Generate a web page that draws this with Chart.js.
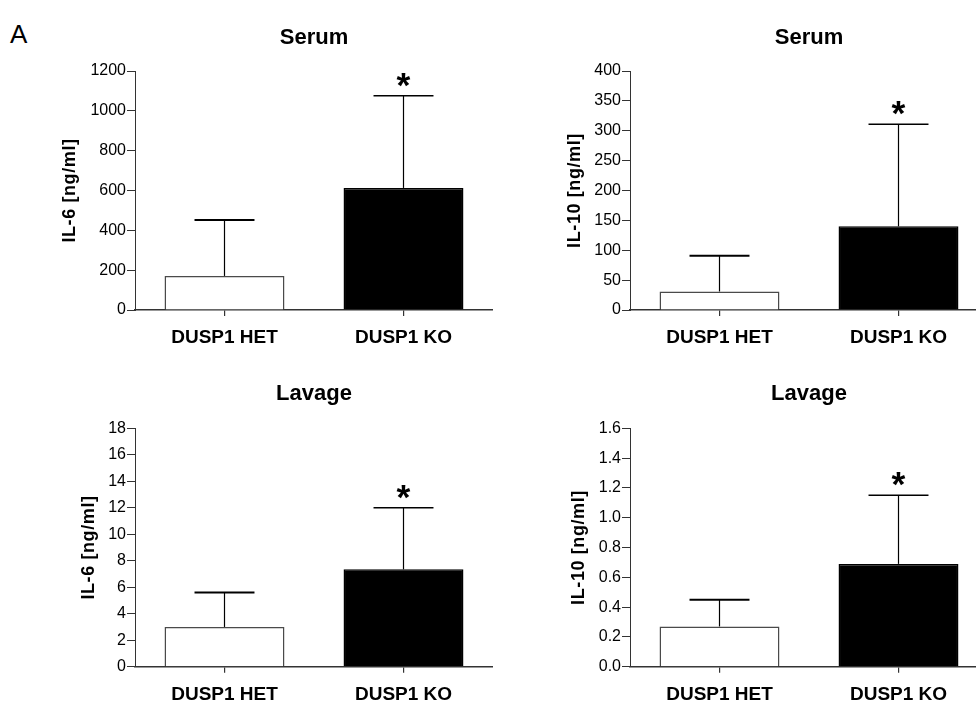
<!DOCTYPE html>
<html>
<head>
<meta charset="utf-8">
<title>DUSP1 HET vs KO – IL-6 / IL-10</title>
<script src="https://cdn.jsdelivr.net/npm/chart.js@4.4.1/dist/chart.umd.min.js"></script>
<style>
    html, body { margin: 0; padding: 0; background: #fff; width: 976px; height: 704px; overflow: hidden; }
    .panel { position: absolute; }
    .panel canvas { display: block; }
    #fig-label { position: absolute; left: 10px; top: 21px; font: 26px/26px "Liberation Sans", Arial, sans-serif; color: #000; }
</style>
</head>
<body>
<div id="fig-label">A</div>
<div class="panel" style="left:0;top:0"><canvas id="c-serum-il6" width="493" height="352"></canvas></div>
<div class="panel" style="left:488px;top:0"><canvas id="c-serum-il10" width="500" height="352"></canvas></div>
<div class="panel" style="left:0;top:352px"><canvas id="c-lavage-il6" width="493" height="352"></canvas></div>
<div class="panel" style="left:488px;top:352px"><canvas id="c-lavage-il10" width="500" height="352"></canvas></div>
<script>
(function () {
    'use strict';

    // ─── Data ───────────────────────────────────────────────────

    const CATEGORIES = ['DUSP1 HET', 'DUSP1 KO'];
    const SIG_MARKS  = ['', '*'];

    const SERUM_IL6_MEAN   = [171, 613];
    const SERUM_IL6_SD     = [281, 463];
    const SERUM_IL10_MEAN  = [31, 140];
    const SERUM_IL10_SD    = [60, 171];
    const LAVAGE_IL6_MEAN  = [3.0, 7.35];
    const LAVAGE_IL6_SD    = [2.6, 4.65];
    const LAVAGE_IL10_MEAN = [0.27, 0.69];
    const LAVAGE_IL10_SD   = [0.18, 0.46];

    const PANEL_TITLES = ['Serum', 'Serum', 'Lavage', 'Lavage'];
    const Y_TITLES     = ['IL-6 [ng/ml]', 'IL-10 [ng/ml]', 'IL-6 [ng/ml]', 'IL-10 [ng/ml]'];
    const Y_MAX        = [1200, 400, 18, 1.6];
    const Y_STEP       = [200, 50, 2, 0.2];
    const Y_DECIMALS   = [0, 0, 0, 1];

    // ─── Layout (pixels inside each canvas) ─────────────────────

    const PANELS = [
        { id: 'c-serum-il6',   mean: SERUM_IL6_MEAN,   sd: SERUM_IL6_SD,   axisW: 135, xH: 42,   pad: { top: 24.5, bottom: 20.1 }, yTitleX: 69.7 },
        { id: 'c-serum-il10',  mean: SERUM_IL10_MEAN,  sd: SERUM_IL10_SD,  axisW: 142, xH: 42,   pad: { top: 24.5, bottom: 20.1 }, yTitleX: 87 },
        { id: 'c-lavage-il6',  mean: LAVAGE_IL6_MEAN,  sd: LAVAGE_IL6_SD,  axisW: 135, xH: 37.3, pad: { top: 28.6, bottom: 21.3 }, yTitleX: 89 },
        { id: 'c-lavage-il10', mean: LAVAGE_IL10_MEAN, sd: LAVAGE_IL10_SD, axisW: 142, xH: 37.3, pad: { top: 28.6, bottom: 21.3 }, yTitleX: 91.3 },
    ];

    const FONT      = '"Liberation Sans", Arial, sans-serif';
    const LINE      = '#333';
    const STAR_H    = 13.5;   // glyph height of the asterisk
    const STAR_GAP  = 16;     // asterisk centre above the error cap

    Chart.defaults.font.family = FONT;
    Chart.defaults.color = '#000';

    // ─── Error bars, significance marks, rotated y titles ───────

    const barExtras = {
        id: 'barExtras',
        afterDatasetsDraw(chart, args, opts) {
            const { ctx, chartArea } = chart;
            const y = chart.scales.y;
            const values = chart.data.datasets[0].data;
            const meta = chart.getDatasetMeta(0);

            ctx.save();
            ctx.strokeStyle = '#000';
            meta.data.forEach(function (bar, i) {
                const top  = y.getPixelForValue(values[i] + opts.sd[i]);
                const half = bar.width / 4;

                ctx.lineWidth = 1.2;
                ctx.beginPath();
                ctx.moveTo(bar.x, bar.y);
                ctx.lineTo(bar.x, top);
                ctx.stroke();

                ctx.lineWidth = i === 0 ? 2 : 1.5;
                ctx.beginPath();
                ctx.moveTo(bar.x - half, top);
                ctx.lineTo(bar.x + half, top);
                ctx.stroke();

                const mark = opts.marks[i];
                if (!mark) return;
                ctx.font = 'bold 100px ' + FONT;
                const ref = ctx.measureText(mark);
                const size = 100 * STAR_H / (ref.actualBoundingBoxAscent + ref.actualBoundingBoxDescent);
                ctx.font = 'bold ' + size.toFixed(1) + 'px ' + FONT;
                const m = ctx.measureText(mark);
                const cy = top - STAR_GAP;
                ctx.fillStyle = '#000';
                ctx.textAlign = 'left';
                ctx.textBaseline = 'alphabetic';
                ctx.fillText(mark,
                    bar.x - (m.actualBoundingBoxRight - m.actualBoundingBoxLeft) / 2,
                    cy + (m.actualBoundingBoxAscent - m.actualBoundingBoxDescent) / 2);
            });

            // y axis title
            ctx.translate(opts.yTitleX, (chartArea.top + chartArea.bottom) / 2);
            ctx.rotate(-Math.PI / 2);
            ctx.font = 'bold 18px ' + FONT;
            ctx.letterSpacing = '0.6px';
            ctx.fillStyle = '#000';
            ctx.textAlign = 'center';
            ctx.textBaseline = 'middle';
            ctx.fillText(opts.yTitle, 0, 0);
            ctx.restore();
        },
    };

    // ─── Charts ─────────────────────────────────────────────────

    PANELS.forEach(function (p, k) {
        const canvas = document.getElementById(p.id);
        new Chart(canvas, {
            type: 'bar',
            data: {
                labels: CATEGORIES,
                datasets: [{
                    data: p.mean,
                    backgroundColor: ['#fff', '#000'],
                    borderColor: ['#4a4a4a', '#000'],
                    borderWidth: 1.5,
                    barPercentage: 0.67,
                    categoryPercentage: 1,
                }],
            },
            options: {
                responsive: false,
                animation: false,
                events: [],
                layout: { padding: 0 },
                plugins: {
                    legend: { display: false },
                    tooltip: { enabled: false },
                    title: {
                        display: true,
                        text: PANEL_TITLES[k],
                        fullSize: false,
                        color: '#000',
                        font: { size: 22, weight: 'bold', lineHeight: 1.2 },
                        padding: p.pad,
                    },
                    barExtras: { sd: p.sd, marks: SIG_MARKS, yTitle: Y_TITLES[k], yTitleX: p.yTitleX },
                },
                scales: {
                    x: {
                        offset: true,
                        grid: { offset: false, drawOnChartArea: false, drawTicks: true, tickLength: 6, color: LINE, lineWidth: 1.2 },
                        border: { display: true, color: LINE, width: 1.5 },
                        ticks: { color: '#000', font: { size: 19, weight: 'bold' }, padding: 10.5, maxRotation: 0, autoSkip: false },
                        afterFit(scale) { scale.height = p.xH; },
                    },
                    y: {
                        min: 0,
                        max: Y_MAX[k],
                        grid: { drawOnChartArea: false, drawTicks: true, tickLength: 8, color: LINE, lineWidth: 1 },
                        border: { display: true, color: LINE, width: 1 },
                        ticks: {
                            stepSize: Y_STEP[k],
                            color: '#000',
                            font: { size: 16 },
                            padding: 1,
                            callback: function (v) { return Number(v).toFixed(Y_DECIMALS[k]); },
                        },
                        afterFit(scale) { scale.width = p.axisW; },
                    },
                },
            },
            plugins: [barExtras],
        });
    });
})();
</script>
</body>
</html>
